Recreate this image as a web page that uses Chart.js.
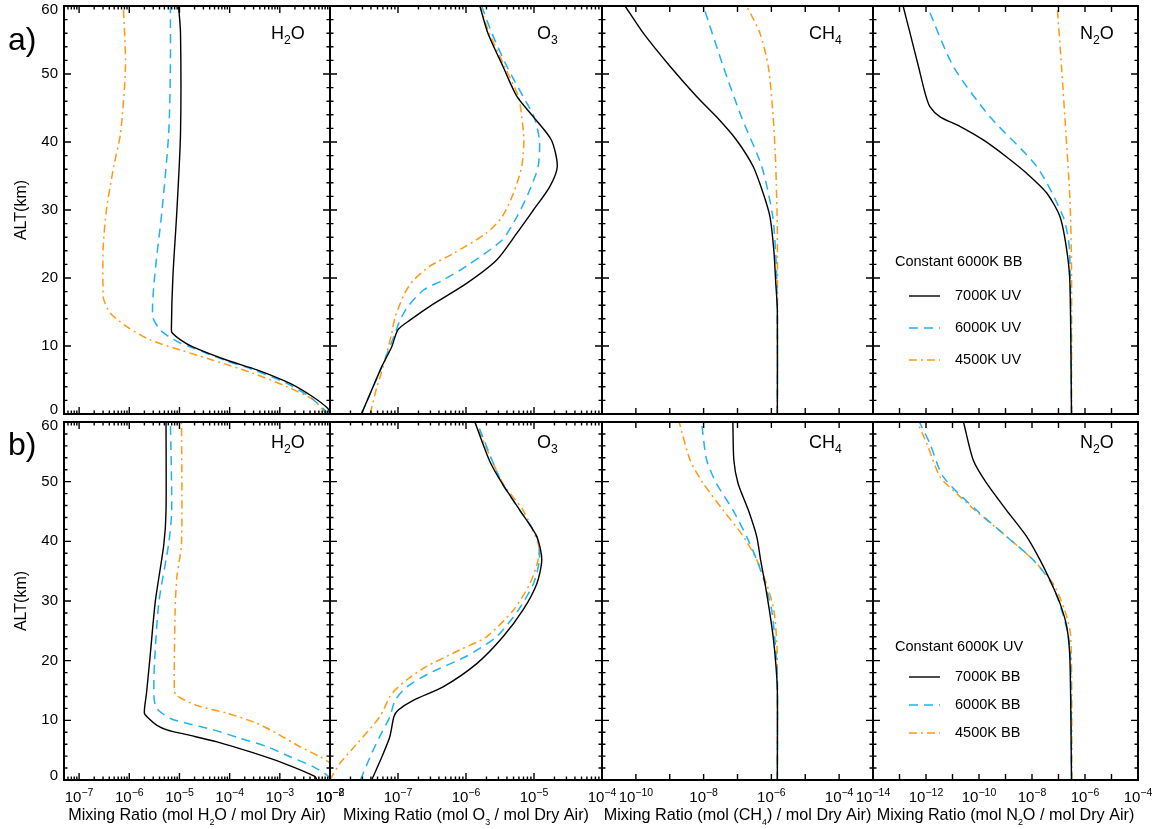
<!DOCTYPE html>
<html>
<head>
<meta charset="utf-8">
<title>Mixing ratio profiles</title>
<script src="https://cdn.jsdelivr.net/npm/chart.js@4.4.1/dist/chart.umd.min.js"></script>
<style>
  html, body { margin: 0; padding: 0; background: #fff; }
  #wrap { position: relative; width: 1156px; height: 829px; overflow: hidden; background: #fff; }
  #wrap canvas { position: absolute; }
</style>
</head>
<body>
<div id="wrap"></div>
<script>
// Vertical mixing-ratio profiles, 2 rows x 4 species
// row a) constant 6000K BB, UV varied / row b) constant 6000K UV, BB varied

// ---------------------------
// DATA (altitude km / mixing ratio)
// ---------------------------

// a) H2O
const a_h2o_7000_alt = [0, 0.8, 2.5, 4.5, 6.5, 7.9, 9.9, 10.9, 11.9, 12.4, 20.2, 30.0, 41.3, 56.0, 60];
const a_h2o_7000     = [1.0e-2, 9.1e-3, 4.6e-3, 1.6e-3, 3.5e-4, 8.9e-5, 1.8e-5, 1.05e-5, 7.2e-6, 6.9e-6, 7.4e-6, 8.9e-6, 1.05e-5, 1.05e-5, 9.6e-6];
const a_h2o_6000_alt = [0, 2.5, 4.5, 6.5, 7.9, 9.9, 10.4, 11.4, 12.4, 14.3, 20.2, 30.0, 41.3, 51.1, 60];
const a_h2o_6000     = [9.5e-3, 4.0e-3, 1.38e-3, 3.0e-4, 8.0e-5, 1.6e-5, 1.05e-5, 6.1e-6, 4.1e-6, 2.94e-6, 3.2e-6, 4.5e-6, 6.1e-6, 6.6e-6, 6.6e-6];
const a_h2o_4500_alt = [0, 2.1, 4.0, 6.0, 7.9, 9.4, 10.9, 12.8, 14.8, 16.8, 17.8, 24.1, 30.0, 36.4, 41.3, 51.1, 60];
const a_h2o_4500     = [8.5e-3, 4.6e-3, 1.4e-3, 2.9e-4, 4.7e-5, 1.05e-5, 2.6e-6, 9.1e-7, 4.2e-7, 3.1e-7, 3.0e-7, 3.0e-7, 3.5e-7, 4.9e-7, 6.7e-7, 8.4e-7, 7.6e-7];

// a) O3
const a_o3_7000_alt = [0, 4.0, 7.0, 9.9, 12.4, 13.8, 15.8, 19.2, 22.6, 26.6, 30.0, 33.4, 36.4, 40.3, 43.7, 46.7, 51.1, 56.0, 60];
const a_o3_7000     = [2.9e-8, 4.3e-8, 5.8e-8, 8.1e-8, 1.0e-7, 1.5e-7, 2.9e-7, 1.02e-6, 2.8e-6, 5.6e-6, 9.8e-6, 1.7e-5, 2.2e-5, 1.8e-5, 9.8e-6, 5.6e-6, 3.5e-6, 2.1e-6, 1.6e-6];
const a_o3_6000_alt = [0, 7.0, 11.9, 13.8, 15.8, 18.2, 19.7, 21.7, 25.6, 29.0, 32.5, 36.4, 40.3, 43.7, 46.7, 51.1, 56.0, 60];
const a_o3_6000     = [2.9e-8, 5.8e-8, 9.1e-8, 1.07e-7, 1.4e-7, 2.35e-7, 4.6e-7, 1.0e-6, 3.4e-6, 5.6e-6, 8.3e-6, 1.15e-5, 1.2e-5, 1.0e-5, 6.9e-6, 4.0e-6, 2.4e-6, 1.7e-6];
const a_o3_4500_alt = [0, 4.0, 7.0, 11.9, 14.3, 17.8, 19.7, 21.7, 23.6, 26.6, 29.0, 32.5, 36.4, 40.3, 43.7, 46.7, 51.1, 56.0, 60];
const a_o3_4500     = [3.9e-8, 4.9e-8, 6.1e-8, 8.1e-8, 9.1e-8, 1.26e-7, 1.7e-7, 2.9e-7, 6.5e-7, 2.0e-6, 3.4e-6, 5.0e-6, 6.6e-6, 7.1e-6, 6.6e-6, 5.9e-6, 3.7e-6, 2.2e-6, 1.6e-6];

// a) CH4
const a_ch4_7000_alt = [0, 15.3, 19.2, 24.1, 29.0, 32.5, 36.4, 40.3, 43.7, 46.7, 51.1, 56.0, 60];
const a_ch4_7000     = [1.5e-6, 1.5e-6, 1.35e-6, 1.18e-6, 9.1e-7, 5.7e-7, 2.9e-7, 9.3e-8, 2.4e-8, 6.2e-9, 1.03e-9, 1.66e-10, 4.8e-11];
const a_ch4_6000_alt = [0, 15, 21.7, 29.0, 36.4, 43.7, 51.1, 60];
const a_ch4_6000     = [1.5e-6, 1.5e-6, 1.4e-6, 1.1e-6, 5.2e-7, 1.3e-7, 3.8e-8, 9.8e-9];
const a_ch4_4500_alt = [0, 26.6, 36.4, 43.7, 51.1, 56.0, 60];
const a_ch4_4500     = [1.5e-6, 1.5e-6, 1.35e-6, 1.13e-6, 8.1e-7, 4.6e-7, 1.86e-7];

// a) N2O
const a_n2o_7000_alt = [0, 19.2, 24.1, 29.0, 32.5, 35.4, 37.8, 40.3, 42.3, 43.7, 45.2, 47.2, 51.1, 56.0, 60];
const a_n2o_7000     = [3.1e-7, 2.7e-7, 2.05e-7, 1.14e-7, 3.6e-8, 6.3e-9, 1.1e-9, 1.45e-10, 1.9e-11, 3.4e-12, 1.4e-12, 9.2e-13, 5.2e-13, 2.5e-13, 1.37e-13];
const a_n2o_6000_alt = [0, 24.1, 29.0, 36.4, 43.7, 51.1, 60];
const a_n2o_6000     = [3.1e-7, 2.6e-7, 1.5e-7, 1.5e-8, 2.6e-10, 1.08e-11, 1.1e-12];
const a_n2o_4500_alt = [0, 21.7, 31.5, 41.3, 51.1, 60];
const a_n2o_4500     = [3.1e-7, 3.1e-7, 2.7e-7, 1.9e-7, 1.3e-7, 8.9e-8];

// b) H2O
const b_h2o_7000_alt = [0, 0.6, 2.8, 4.7, 6.4, 7.6, 8.4, 9.2, 10.3, 11.2, 14.5, 20.1, 29.9, 39.6, 45.2, 60];
const b_h2o_7000     = [5.5e-3, 5.0e-3, 1.2e-3, 2.6e-4, 5.6e-5, 1.4e-5, 5.6e-6, 3.5e-6, 2.45e-6, 2.0e-6, 2.2e-6, 2.56e-6, 3.3e-6, 4.9e-6, 5.4e-6, 5.4e-6];
const b_h2o_6000_alt = [0, 0.6, 2.2, 3.9, 5.6, 7.0, 8.4, 9.5, 10.3, 12.0, 14.0, 20.1, 29.9, 39.6, 45.2, 60];
const b_h2o_6000     = [1.0e-2, 9.3e-3, 4.7e-3, 1.6e-3, 5.5e-4, 1.6e-4, 4.8e-5, 1.4e-5, 6.6e-6, 3.5e-6, 3.1e-6, 3.2e-6, 3.9e-6, 6.1e-6, 7.0e-6, 6.6e-6];
const b_h2o_4500_alt = [0, 2.8, 3.9, 5.6, 7.8, 9.5, 11.2, 12.5, 14.2, 15.1, 28.5, 34.1, 39.6, 60];
const b_h2o_4500     = [1.8e-2, 1.0e-2, 6.3e-3, 2.5e-3, 8.7e-4, 3.5e-4, 8.9e-5, 2.2e-5, 8.6e-6, 7.9e-6, 8.2e-6, 8.9e-6, 1.1e-5, 1.1e-5];

// b) O3
const b_o3_7000_alt = [0, 3.9, 7.3, 10.6, 11.7, 13.4, 15.6, 19.5, 24.0, 28.5, 32.9, 36.9, 40.8, 45.2, 49.7, 53.6, 60];
const b_o3_7000     = [4.1e-8, 5.8e-8, 7.6e-8, 8.7e-8, 1.0e-7, 1.7e-7, 4.6e-7, 1.44e-6, 3.5e-6, 6.9e-6, 1.1e-5, 1.3e-5, 1.1e-5, 6.2e-6, 3.4e-6, 2.2e-6, 1.35e-6];
const b_o3_6000_alt = [0, 3.9, 7.3, 10.6, 13.4, 15.6, 17.9, 20.7, 24.0, 28.5, 32.9, 36.9, 40.8, 45.2, 49.7, 60];
const b_o3_6000     = [2.8e-8, 3.9e-8, 5.4e-8, 7.6e-8, 9.1e-8, 1.35e-7, 2.9e-7, 1.0e-6, 2.8e-6, 5.9e-6, 9.8e-6, 1.2e-5, 1.1e-5, 6.2e-6, 3.4e-6, 1.44e-6];
const b_o3_4500_alt = [0, 2.8, 6.1, 10.6, 14.0, 15.1, 16.8, 19.0, 21.8, 24.0, 28.5, 32.9, 36.9, 39.6, 45.2, 49.7, 60];
const b_o3_4500     = [1.0e-8, 1.4e-8, 2.5e-8, 5.4e-8, 7.6e-8, 9.1e-8, 1.35e-7, 2.6e-7, 8.1e-7, 2.0e-6, 5.0e-6, 8.7e-6, 1.15e-5, 1.15e-5, 6.9e-6, 3.5e-6, 1.35e-6];

// b) CH4
const b_ch4_7000_alt = [0, 15.1, 19.5, 24.0, 28.5, 32.9, 36.9, 40.8, 45.2, 49.7, 53.6, 60];
const b_ch4_7000     = [1.5e-6, 1.5e-6, 1.35e-6, 1.13e-6, 8.7e-7, 6.5e-7, 4.8e-7, 3.7e-7, 2.1e-7, 1.04e-7, 7.8e-8, 7.3e-8];
const b_ch4_6000_alt = [0, 17.3, 22.9, 28.5, 32.9, 36.9, 40.8, 45.2, 49.7, 53.6, 60];
const b_ch4_6000     = [1.5e-6, 1.5e-6, 1.3e-6, 1.02e-6, 6.5e-7, 3.7e-7, 1.86e-7, 7.4e-8, 2.4e-8, 1.23e-8, 8.7e-9];
const b_ch4_4500_alt = [0, 17, 22.9, 28.5, 32.9, 36.9, 40.8, 45.2, 49.7, 53.6, 60];
const b_ch4_4500     = [1.5e-6, 1.5e-6, 1.45e-6, 1.18e-6, 7.2e-7, 3.7e-7, 1.5e-7, 3.8e-8, 9.8e-9, 4.0e-9, 1.9e-9];

// b) N2O
const b_n2o_7000_alt = [0, 20.1, 25.7, 29.6, 32.9, 36.9, 40.8, 45.2, 49.7, 53.6, 60];
const b_n2o_7000     = [3.1e-7, 2.7e-7, 2.05e-7, 1.14e-7, 5.5e-8, 2.0e-8, 6.3e-9, 1.1e-9, 1.96e-10, 6.1e-11, 2.6e-11];
const b_n2o_6000_alt = [0, 19.5, 24.0, 28.5, 32.9, 36.9, 40.8, 45.2, 50.8, 56.4, 60];
const b_n2o_6000     = [3.1e-7, 2.9e-7, 2.4e-7, 1.3e-7, 5.5e-8, 1.1e-8, 1.1e-9, 8.1e-11, 4.5e-12, 1.4e-12, 5.6e-13];
const b_n2o_4500_alt = [0, 24.0, 28.5, 32.9, 36.9, 40.8, 45.2, 48.0, 50.8, 56.4, 60];
const b_n2o_4500     = [3.2e-7, 2.9e-7, 1.7e-7, 6.3e-8, 1.1e-8, 1.1e-9, 7.1e-11, 1.45e-11, 3.4e-12, 1.07e-12, 4.7e-13];

// tick label exponents (10^n) per species axis
const h2oTickExp = [-7, -6, -5, -4, -3, -2];
const o3TickExp  = [-8, -7, -6, -5, -4];
const ch4TickExp = [-10, -8, -6, -4];
const n2oTickExp = [-14, -12, -10, -8, -6, -4];
const altTicks   = [0, 10, 20, 30, 40, 50, 60];

// legend text
const legendHeadA = 'Constant 6000K BB';
const legendHeadB = 'Constant 6000K UV';
const seriesNamesA = ['7000K UV', '6000K UV', '4500K UV'];
const seriesNamesB = ['7000K BB', '6000K BB', '4500K BB'];

(function () {
  const FONT = '"Liberation Sans", Arial, Helvetica, sans-serif';
  const wrap = document.getElementById('wrap');

  // line styles: 7000K solid black, 6000K dashed cyan, 4500K dash-dot orange
  const STYLES = [
    { color: '#000000', dash: [], width: 1.4 },
    { color: '#1fb2f4', dash: [9, 6], width: 1.5 },
    { color: '#ff9a12', dash: [8, 4, 2, 4], width: 1.5 }
  ];

  // panel frames in page pixels
  const COLS = [
    { left: 64, right: 330 }, { left: 330, right: 602 },
    { left: 602, right: 873 }, { left: 873, right: 1138 }
  ];
  const ROWS = [{ top: 6, bottom: 414 }, { top: 422, bottom: 780 }];

  const SPECIES = [
    { name: [['H', 0], ['2', 1], ['O', 0]], min: 5e-8, max: 1e-2, exps: h2oTickExp, minor: true,
      title: [['Mixing Ratio (mol H', 0], ['2', 1], ['O / mol Dry Air)', 0]] },
    { name: [['O', 0], ['3', 1]], min: 1e-8, max: 1e-4, exps: o3TickExp, minor: true,
      title: [['Mixing Ratio (mol O', 0], ['3', 1], [' / mol Dry Air)', 0]] },
    { name: [['CH', 0], ['4', 1]], min: 1e-11, max: 1e-3, exps: ch4TickExp, minor: false,
      title: [['Mixing Ratio (mol (CH', 0], ['4', 1], [') / mol Dry Air)', 0]] },
    { name: [['N', 0], ['2', 1], ['O', 0]], min: 1e-14, max: 1e-4, exps: n2oTickExp, minor: false,
      title: [['Mixing Ratio (mol N', 0], ['2', 1], ['O / mol Dry Air)', 0]] }
  ];

  const SERIES = [
    [[a_h2o_7000_alt, a_h2o_7000], [a_h2o_6000_alt, a_h2o_6000], [a_h2o_4500_alt, a_h2o_4500]],
    [[a_o3_7000_alt, a_o3_7000], [a_o3_6000_alt, a_o3_6000], [a_o3_4500_alt, a_o3_4500]],
    [[a_ch4_7000_alt, a_ch4_7000], [a_ch4_6000_alt, a_ch4_6000], [a_ch4_4500_alt, a_ch4_4500]],
    [[a_n2o_7000_alt, a_n2o_7000], [a_n2o_6000_alt, a_n2o_6000], [a_n2o_4500_alt, a_n2o_4500]],
    [[b_h2o_7000_alt, b_h2o_7000], [b_h2o_6000_alt, b_h2o_6000], [b_h2o_4500_alt, b_h2o_4500]],
    [[b_o3_7000_alt, b_o3_7000], [b_o3_6000_alt, b_o3_6000], [b_o3_4500_alt, b_o3_4500]],
    [[b_ch4_7000_alt, b_ch4_7000], [b_ch4_6000_alt, b_ch4_6000], [b_ch4_4500_alt, b_ch4_4500]],
    [[b_n2o_7000_alt, b_n2o_7000], [b_n2o_6000_alt, b_n2o_6000], [b_n2o_4500_alt, b_n2o_4500]]
  ];

  // text with sub (1) / superscript (2) pieces
  function drawRich(ctx, parts, x, y, size, align, ratio) {
    const small = size * (ratio || 0.68);
    let total = 0;
    const widths = parts.map(p => {
      ctx.font = (p[1] ? small : size) + 'px ' + FONT;
      const w = ctx.measureText(p[0]).width;
      total += w;
      return w;
    });
    let cx = align === 'center' ? x - total / 2 : x;
    ctx.textAlign = 'left';
    ctx.textBaseline = 'alphabetic';
    parts.forEach((p, i) => {
      ctx.font = (p[1] ? small : size) + 'px ' + FONT;
      const dy = p[1] === 1 ? size * 0.28 : (p[1] === 2 ? -size * 0.4 : 0);
      ctx.fillText(p[0], cx, y + dy);
      cx += widths[i];
    });
  }

  // frame, inward ticks, species name, tick labels, legend
  const panelPlugin = {
    id: 'panel',
    afterDraw(chart, args, o) {
      const ctx = chart.ctx;
      const { left, right, top, bottom } = chart.chartArea;
      const xs = chart.scales.x;
      const ys = chart.scales.y;
      ctx.save();
      ctx.strokeStyle = '#000';
      ctx.fillStyle = '#000';

      // y ticks every 2 km, major every 10
      ctx.lineWidth = 1.4;
      ctx.beginPath();
      for (let v = 0; v <= 60; v += 2) {
        const y = ys.getPixelForValue(v);
        const len = v % 10 === 0 ? 7 : 3.5;
        ctx.moveTo(left, y); ctx.lineTo(left + len, y);
        ctx.moveTo(right, y); ctx.lineTo(right - len, y);
      }
      // x ticks: decades (+ 2..9 minors where shown)
      const d0 = Math.floor(Math.log10(o.sp.min));
      const d1 = Math.ceil(Math.log10(o.sp.max));
      for (let d = d0; d <= d1; d++) {
        const base = Math.pow(10, d);
        const list = o.sp.minor ? [1, 2, 3, 4, 5, 6, 7, 8, 9] : [1];
        list.forEach(m => {
          const v = m * base;
          if (v < o.sp.min * 0.999 || v > o.sp.max * 1.001) return;
          const x = xs.getPixelForValue(v);
          const len = m === 1 ? (o.sp.minor ? 7 : 6) : 3.5;
          ctx.moveTo(x, bottom); ctx.lineTo(x, bottom - len);
          ctx.moveTo(x, top); ctx.lineTo(x, top + len);
        });
      }
      ctx.stroke();

      // frame
      ctx.lineWidth = 2;
      ctx.strokeRect(left, top, right - left, bottom - top);

      // altitude labels (end labels pulled inside a little)
      if (o.yLabels) {
        ctx.font = '15px ' + FONT;
        ctx.textAlign = 'right';
        ctx.textBaseline = 'middle';
        altTicks.forEach(v => {
          const nudge = v === 60 ? 4 : (v === 0 ? -4 : 0);
          ctx.fillText(String(v), left - 6, ys.getPixelForValue(v) + nudge);
        });
      }

      // species name
      drawRich(ctx, o.sp.name, left + 207, top + o.nameDy, 18, 'left');

      // bottom row: tick labels + axis title
      if (o.bottomRow) {
        o.sp.exps.forEach(e => {
          const x = xs.getPixelForValue(Math.pow(10, e));
          drawRich(ctx, [['10', 0], ['\u2212' + Math.abs(e), 2]], x, bottom + 22, 15, 'center', 0.7);
        });
        drawRich(ctx, o.sp.title, (left + right) / 2, bottom + 40, 16.2, 'center', 0.55);
      }

      // row letter
      if (o.letter) {
        ctx.font = '32px ' + FONT;
        ctx.textAlign = 'left';
        ctx.textBaseline = 'alphabetic';
        ctx.fillText(o.letter.text, o.letter.x, o.letter.y);
      }

      // legend
      if (o.legend) {
        const lg = o.legend;
        ctx.font = '14.5px ' + FONT;
        ctx.textBaseline = 'middle';
        ctx.textAlign = 'left';
        ctx.fillText(lg.head, left + 22, top + lg.headDy);
        chart.data.datasets.forEach((ds, i) => {
          const y = top + lg.itemDy[i];
          ctx.save();
          ctx.strokeStyle = ds.borderColor;
          ctx.lineWidth = ds.borderWidth;
          ctx.setLineDash(ds.borderDash);
          ctx.beginPath();
          ctx.moveTo(left + 36, y);
          ctx.lineTo(left + 67, y);
          ctx.stroke();
          ctx.restore();
          ctx.fillText(ds.label, left + 82, y);
        });
      }
      ctx.restore();
    }
  };

  function makePanel(row, col) {
    const c = COLS[col], r = ROWS[row], sp = SPECIES[col];
    const padL = col === 0 ? c.left : 30;
    const padR = 30;
    const padT = row === 0 ? r.top : 10;
    const padB = row === 0 ? 10 : 829 - r.bottom;
    const w = c.right - c.left + padL + padR;
    const h = r.bottom - r.top + padT + padB;
    const ox = c.left - padL, oy = r.top - padT;

    const cv = document.createElement('canvas');
    cv.width = w; cv.height = h;
    cv.style.left = ox + 'px'; cv.style.top = oy + 'px';
    cv.style.width = w + 'px'; cv.style.height = h + 'px';
    wrap.appendChild(cv);

    const names = row === 0 ? seriesNamesA : seriesNamesB;
    const datasets = SERIES[row * 4 + col].map((s, i) => ({
      label: names[i],
      data: s[0].map((alt, k) => ({ x: s[1][k], y: alt })),
      borderColor: STYLES[i].color,
      borderDash: STYLES[i].dash,
      borderWidth: STYLES[i].width,
      pointRadius: 0,
      fill: false,
      tension: 0.25
    }));

    const legend = col === 3 ? (row === 0
      ? { head: legendHeadA, headDy: 256, itemDy: [290, 322, 354] }
      : { head: legendHeadB, headDy: 225, itemDy: [255, 283, 311] }) : null;
    const letter = col === 0 ? { text: row === 0 ? 'a)' : 'b)', x: 8 - ox, y: (row === 0 ? 50 : 455) - oy } : null;

    new Chart(cv.getContext('2d'), {
      type: 'line',
      data: { datasets },
      plugins: [panelPlugin],
      options: {
        responsive: false,
        animation: false,
        indexAxis: 'y',
        layout: { autoPadding: false, padding: { left: 0, top: padT, right: padR, bottom: 0 } },
        plugins: {
          legend: { display: false },
          tooltip: { enabled: false },
          panel: { sp, nameDy: row === 0 ? 33 : 26, bottomRow: row === 1, yLabels: col === 0, legend, letter }
        },
        scales: {
          x: {
            type: 'logarithmic', position: 'bottom', min: sp.min, max: sp.max,
            grid: { display: false, drawTicks: false }, border: { display: false },
            ticks: { display: false },
            afterFit: s => { s.height = padB; s.paddingLeft = 0; s.paddingRight = 0; }
          },
          y: {
            type: 'linear', position: 'left', min: 0, max: 60,
            grid: { display: false, drawTicks: false }, border: { display: false },
            afterBuildTicks: s => { s.ticks = altTicks.map(v => ({ value: v })); },
            ticks: { display: false },
            title: {
              display: col === 0, text: 'ALT(km)', color: '#000',
              font: { family: FONT, size: 16 }, padding: { top: 12, bottom: 0 }
            },
            afterFit: s => { s.width = padL; s.paddingTop = 0; s.paddingBottom = 0; }
          }
        }
      }
    });
  }

  function initAll() {
    for (let row = 0; row < 2; row++) {
      for (let col = 0; col < 4; col++) makePanel(row, col);
    }
  }

  if (document.readyState === 'loading') {
    document.addEventListener('DOMContentLoaded', initAll);
  } else {
    initAll();
  }
})();
</script>
</body>
</html>
